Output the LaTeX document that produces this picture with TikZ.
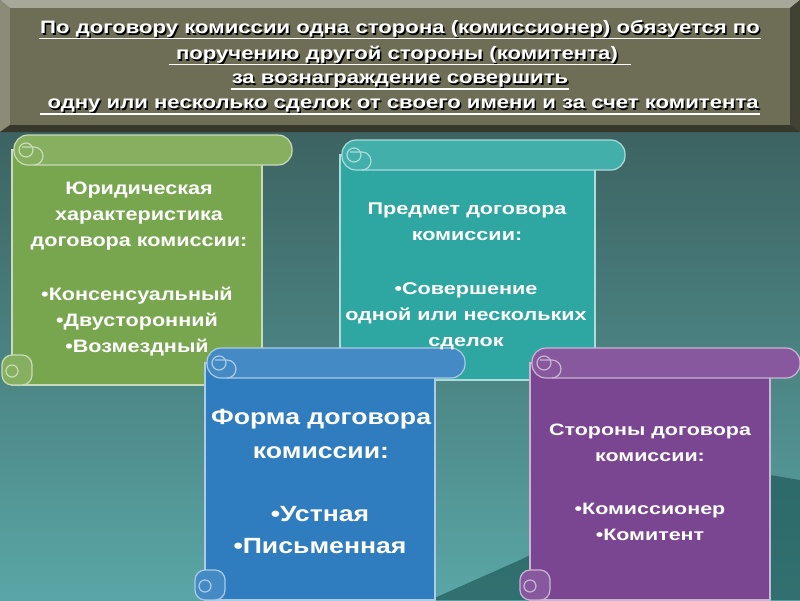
\documentclass[tikz,border=0pt]{standalone}
\usepackage{fontspec}
\setmainfont{Liberation Sans}
\definecolor{bgtop}{HTML}{34504E}
\definecolor{bgbot}{HTML}{5AA6A6}
\definecolor{cgreen}{HTML}{78A64E}
\definecolor{cteal}{HTML}{2EA6A2}
\definecolor{cblue}{HTML}{2F7DBE}
\definecolor{cpurp}{HTML}{7A4692}
\definecolor{hdr}{HTML}{6E6E56}
\newcommand\wl[2]{\scalebox{#1}[1]{#2}}
\begin{document}
\begin{tikzpicture}[x=1pt,y=-1pt,
  txt/.style={text=white,align=center},
  hl/.style={text=white,font=\bfseries\fontsize{18}{19}\selectfont,inner sep=1pt},
  roll/.style={line width=1.2pt,rounded corners=14pt},
  body/.style={line width=1.2pt}]
\useasboundingbox (0,0) rectangle (800,600);
\shade[top color=bgtop,bottom color=bgbot] (0,0) rectangle (800,600);
\fill[black!40!teal!60!bgtop,opacity=0.6] (430,600) -- (520,560) -- (600,520) -- (680,500) -- (740,470) -- (800,480) -- (800,600) -- cycle;
% header
\fill[hdr!60!white] (0,0) -- (800,0) -- (790,8) -- (10,8) -- cycle;
\fill[hdr!80!white] (0,0) -- (10,8) -- (10,125) -- (0,132) -- cycle;
\fill[hdr!60!black] (800,0) -- (790,8) -- (790,125) -- (800,132) -- cycle;
\fill[hdr!50!black] (0,132) -- (800,132) -- (790,125) -- (10,125) -- cycle;
\fill[hdr] (10,8) rectangle (790,125);
\foreach \t/\y/\n in {{По договору комиссии одна сторона (комиссионер) обязуется по}/29/h1,{\ поручению другой стороны (комитента)\ \ }/55/h2,{за вознаграждение совершить}/81/h3,{\ одну или несколько сделок от своего имени и за счет комитента}/106/h4}{
 \node[hl,text=black] at (401.5,\y+1.5) {\wl{1.23}{\t}};
 \node[hl] (\n) at (400,\y) {\wl{1.23}{\t}};
 \draw[white,line width=1.2pt] (\n.south west) -- (\n.south east);}
\newcommand{\myscroll}[6]{%
 \fill[#6,draw=#6!40!white,body] (#1,#2+15) rectangle (#3,#4);
 \fill[#6!90!white,draw=#6!40!white,roll] (#1+2,#2) rectangle (#5,#2+30);
 \draw[#6!40!white,line width=1.2pt] (#1+22,#2+30) arc (-90:-270:-9) -- (#1+10,#2+12) ;
 \draw[#6!40!white,line width=1.2pt] (#1+14,#2+15) circle (7);
 \fill[#6!90!white,draw=#6!40!white,line width=1.2pt,rounded corners=10pt] (#1-10,#4-30) rectangle (#1+20,#4);
 \draw[#6!40!white,line width=1.2pt] (#1,#4-14) circle (6);
}
\myscroll{12}{135}{262}{385}{292}{cgreen}
\myscroll{340}{140}{595}{380}{625}{cteal}
\myscroll{205}{348}{435}{600}{465}{cblue}
\myscroll{530}{348}{770}{600}{800}{cpurp}
\node[txt,font=\bfseries\fontsize{18}{26}\selectfont] (a) at (139,216) {\wl{1.2}{Юридическая}\\\wl{1.2}{характеристика}\\\wl{1.2}{договора комиссии:}};
\node[txt,font=\bfseries\fontsize{18}{26}\selectfont] (a2) at (137,322) {\wl{1.2}{•Консенсуальный}\\\wl{1.2}{•Двусторонний}\\\wl{1.2}{•Возмездный}};
\node[txt,font=\bfseries\fontsize{17}{26}\selectfont] (b) at (467,222) {\wl{1.27}{Предмет договора}\\\wl{1.27}{комиссии:}};
\node[txt,font=\bfseries\fontsize{17}{26}\selectfont] (b2) at (466,316) {\wl{1.27}{•Совершение}\\\wl{1.27}{одной или нескольких}\\\wl{1.27}{сделок}};
\node[txt,font=\bfseries\fontsize{22}{34}\selectfont] (c) at (321,434) {\wl{1.21}{Форма договора}\\\wl{1.21}{комиссии:}};
\node[txt,font=\bfseries\fontsize{22}{32}\selectfont] (c2) at (320,530) {\wl{1.21}{•Устная}\\\wl{1.21}{•Письменная}};
\node[txt,font=\bfseries\fontsize{16.5}{26}\selectfont] (d) at (650,443) {\wl{1.3}{Стороны договора}\\\wl{1.3}{комиссии:}};
\node[txt,font=\bfseries\fontsize{16.5}{26}\selectfont] (d2) at (650,522) {\wl{1.3}{•Комиссионер}\\\wl{1.3}{•Комитент}};
\end{tikzpicture}
\end{document}
